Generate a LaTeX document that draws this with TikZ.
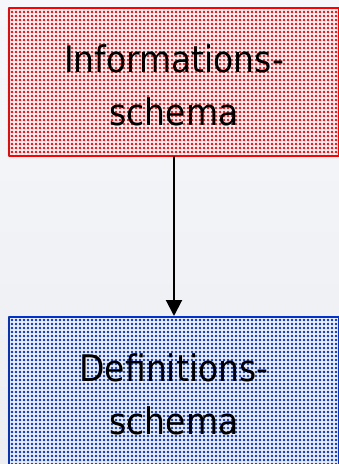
\documentclass[tikz,border=0pt]{standalone}
\usepackage{fontspec}
\setmainfont{DejaVu Sans Condensed}
\usetikzlibrary{arrows.meta,patterns.meta}

\definecolor{bgtop}{HTML}{F6F7FA}
\definecolor{bgbot}{HTML}{ECEEF2}
\definecolor{schemablue}{HTML}{0033CC}

% a little extra room above the first line sets the text slightly low
\newcommand{\toproom}{\rule{0pt}{26pt}}

\tikzset{
  schemabox/.style={draw,line width=1.5pt,minimum width=247.5pt,minimum height=111pt,
    inner sep=0pt,align=center,font=\fontsize{27.5}{39.75}\selectfont},
  infobox/.style={schemabox,draw=red,
    pattern={Dots[distance=3pt,radius=1.05pt]},pattern color=red},
  defbox/.style={schemabox,draw=schemablue,
    pattern={Dots[distance=3pt,radius=1.05pt]},pattern color=schemablue},
}

\begin{document}
\begin{tikzpicture}[x=0.75pt,y=-0.75pt,line cap=round,line join=round]
  % page with its soft vertical gradient
  \shade[top color=bgtop,bottom color=bgbot] (0,0) rectangle (339,464);
  \useasboundingbox (0,0) rectangle (339,464);
  % the two schemas
  \node[infobox] (info) at (174,82) {\toproom Informations-\\schema};
  \node[defbox] (def) at (174,391) {\toproom Definitions-\\schema};
  \draw[line width=1.5pt,-{Triangle[width=12pt,length=12pt]}] (info) -- (def);
\end{tikzpicture}
\end{document}
